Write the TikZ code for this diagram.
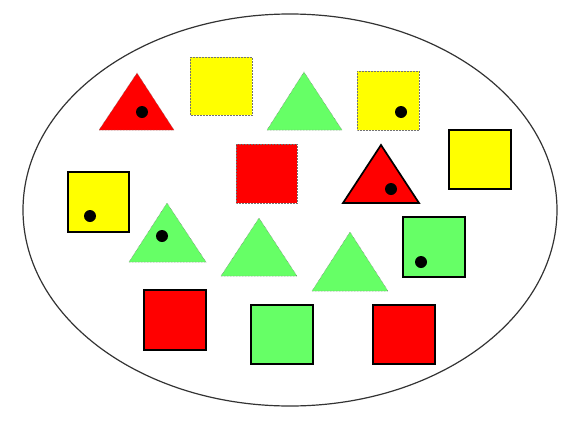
\documentclass[tikz,border=0pt]{standalone}
\usepackage{xcolor}
\usepackage{tikz}
\definecolor{cRed}{HTML}{FF0000}
\definecolor{cYel}{HTML}{FFFF00}
\definecolor{cGrn}{HTML}{66FF66}
\definecolor{cLine}{HTML}{333333}
\tikzset{
  outer/.style={draw=cLine, line width=1.2pt},
  faint/.style={draw=black!55, densely dotted, line width=0.5pt},
  bold/.style={draw=black, line width=1.7pt, line join=miter},
  redf/.style={fill=cRed},
  yelf/.style={fill=cYel},
  grnf/.style={fill=cGrn},
  dot/.style={fill=black}
}
% square by corners, triangle by base ends and apex
\newcommand{\sqr}[5]{\path[#1] (#2,#3) rectangle (#4,#5);}
\newcommand{\trg}[7]{\path[#1] (#2,#3) -- (#4,#5) -- (#6,#7) -- cycle;}
\newcommand{\spot}[2]{\path[dot] (#1,#2) circle (6);}

\begin{document}
\begin{tikzpicture}[x=1pt, y=-1pt]
\useasboundingbox (0,0) rectangle (579,426);
% the set
\draw[outer] (290,210) ellipse (267 and 196);
% top row
\trg{redf, faint}{99}{130}{174}{130}{137}{73}
\spot{142}{112}
\sqr{yelf, faint}{190}{57}{252}{115}
\trg{grnf, faint}{267}{130}{342}{130}{304}{72}
\sqr{yelf, faint}{357}{71}{419}{130}
\spot{401}{112}
% middle rows
\sqr{redf, faint}{236}{144}{297}{203}
\trg{redf, bold}{343}{203}{419}{203}{381}{145}
\spot{391}{189}
\sqr{yelf, bold}{449}{130}{511}{189}
\sqr{yelf, bold}{68}{172}{129}{232}
\spot{90}{216}
\trg{grnf, faint}{129}{262}{206}{262}{167}{203}
\spot{162}{236}
\trg{grnf, faint}{221}{276}{297}{276}{259}{218}
\trg{grnf, faint}{312}{291}{388}{291}{350}{232}
\sqr{grnf, bold}{403}{217}{465}{277}
\spot{421}{262}
% bottom row
\sqr{redf, bold}{144}{290}{206}{350}
\sqr{grnf, bold}{251}{305}{313}{364}
\sqr{redf, bold}{373}{305}{435}{364}
\end{tikzpicture}
\end{document}
